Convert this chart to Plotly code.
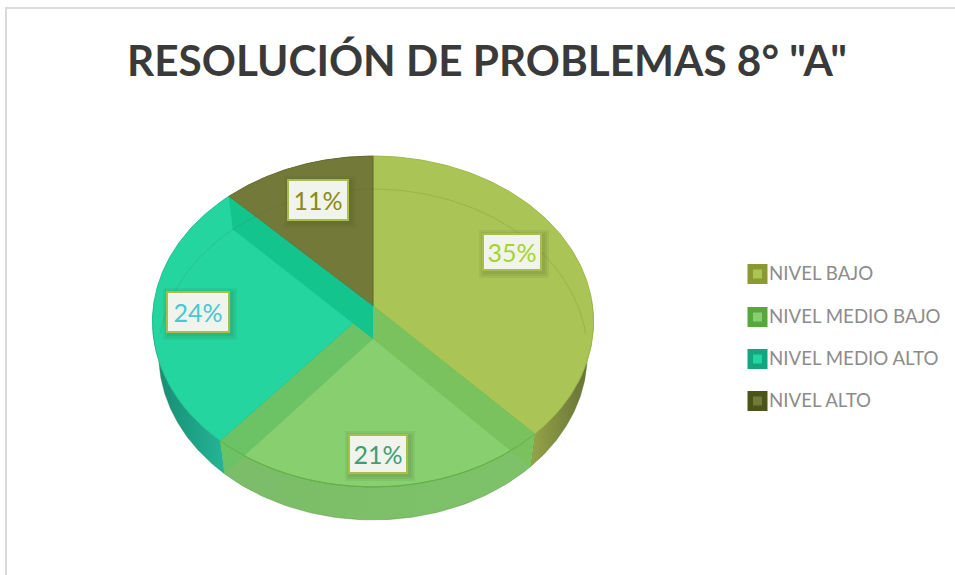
import numpy as np
import plotly.graph_objects as go

# ---- data ----
categories = ["NIVEL BAJO", "NIVEL MEDIO BAJO", "NIVEL MEDIO ALTO", "NIVEL ALTO"]
values = [35.0, 21.4, 24.4, 11.4]
title_text = 'RESOLUCIÓN DE PROBLEMAS 8° "A"'

# ---- styles ----
top_colors = ["#AAC456", "#88CF70", "#24D5A0", "#737A39"]
edge_colors = ["#9DB847", "#6DBB50", "#20C090", "#5F6A2A"]
wall_scales = [["#96A548", "#646C34"], ["#7BBD68", "#7DC268"], ["#168A72", "#24B596"], ["#737A39", "#737A39"]]
cut_colors = {0: "#7AC25E", 1: "#6CC366", 2: "#14C48D"}
swatch_outer = ["#8A9A2E", "#55A83A", "#12A580", "#4B5518"]
label_colors = ["#A6D32D", "#3F9E72", "#45C9D3", "#8C8A14"]
label_centres = [(512, 252), (378, 454), (198, 312), (318, 200)]
label_sizes = [(60, 38), (60, 40), (64, 42), (62, 42)]
legend_rows = [274, 317, 359, 401]

# pie geometry on a pixel-scaled axis (perspective disc)
CX, CY, RX, RY, K, DEPTH, FLOOR_X = 373, 306, 219.5, 164, -0.0937, 33, 0.972


def rim(theta_deg, shift=0.0, xscale=1.0):
    t = np.radians(theta_deg)
    u, v = np.sin(t), np.cos(t)
    d = 1 - K * v
    return CX + xscale * RX * u / d, CY - RY * v / d + shift


total = sum(values)
bounds = np.concatenate([[0], np.cumsum(values) / total * 360])
traces = []

# side walls of the front half
for i in range(len(values)):
    a, b = max(bounds[i], 88), min(bounds[i + 1], 272)
    if b <= a:
        continue
    th = np.linspace(a, b, 80)
    x1, y1 = rim(th)
    x2, y2 = rim(th[::-1], DEPTH, FLOOR_X)
    scale = wall_scales[i]
    traces.append(go.Scatter(
        x=np.r_[x1, x2], y=np.r_[y1, y2], mode="lines", fill="toself",
        line=dict(width=0.6, color="rgba(70,130,50,0.6)"),
        fillgradient=dict(type="horizontal", colorscale=[[0, scale[0]], [1, scale[1]]]),
        hoverinfo="skip", showlegend=False))

# top faces
for i, cat in enumerate(categories):
    th = np.linspace(bounds[i], bounds[i + 1], 120)
    x, y = rim(th)
    traces.append(go.Scatter(
        x=np.r_[CX, x, CX], y=np.r_[CY, y, CY], mode="lines", fill="toself",
        fillcolor=top_colors[i], line=dict(width=1, color=edge_colors[i]),
        name=cat, text=f"{round(values[i])}%", hoverinfo="name+text", showlegend=False))

# cut faces seen through the translucent top
for i, c in cut_colors.items():
    rx0, ry0 = rim(bounds[i + 1])
    rx1, ry1 = rim(bounds[i + 1], DEPTH, FLOOR_X)
    traces.append(go.Scatter(
        x=[CX, rx0, rx1, CX, CX], y=[CY, ry0, ry1, CY + DEPTH, CY],
        mode="lines", fill="toself", fillcolor=c, line=dict(width=0),
        hoverinfo="skip", showlegend=False))

# re-stroke the near rim and far-side inner rim
th = np.linspace(bounds[1], bounds[2], 200)
x, y = rim(th)
traces.append(go.Scatter(x=x, y=y, mode="lines", line=dict(width=1, color="#62B048"),
                         hoverinfo="skip", showlegend=False))
th = np.linspace(-88, 88, 200)
x, y = rim(th, DEPTH, FLOOR_X)
traces.append(go.Scatter(x=x, y=y, mode="lines", line=dict(width=1, color="rgba(80,100,30,0.18)"),
                         hoverinfo="skip", showlegend=False))

# legend swatches
for i, cat in enumerate(categories):
    traces.append(go.Scatter(x=[757.5], y=[legend_rows[i]], mode="markers",
                             marker=dict(symbol="square", size=20, color=swatch_outer[i]),
                             hoverinfo="skip", showlegend=False))
    traces.append(go.Scatter(x=[757.5], y=[legend_rows[i]], mode="markers",
                             marker=dict(symbol="square", size=9, color=top_colors[i]),
                             hoverinfo="skip", showlegend=False))

annotations = []
shapes = [
    dict(type="line", x0=5, x1=955, y0=8, y1=8, line=dict(color="#DADADA", width=2)),
    dict(type="line", x0=6, x1=6, y0=8, y1=575, line=dict(color="#DADADA", width=2)),
]
for i, v in enumerate(values):
    cx, cy = label_centres[i]
    w, h = label_sizes[i]
    for grow in (5, 3, 1):
        shapes.append(dict(type="rect", x0=cx - w / 2 + 2 - grow, x1=cx + w / 2 + 2 + grow,
                           y0=cy - h / 2 + 2 - grow, y1=cy + h / 2 + 2 + grow,
                           fillcolor="rgba(70,80,20,0.08)", line=dict(width=0), layer="above"))
    annotations.append(dict(x=cx, y=cy, xref="x", yref="y", text=f"{round(v)}%", showarrow=False,
                            width=w - 4, height=h - 4, align="center", valign="middle",
                            bgcolor="#F1F4EC", bordercolor="#A9BD4F", borderwidth=2, borderpad=0,
                            font=dict(family="Lato", size=25, color=label_colors[i])))
for i, cat in enumerate(categories):
    annotations.append(dict(x=767, y=legend_rows[i] - 1, xref="x", yref="y", text=cat, showarrow=False,
                            xanchor="left", yanchor="middle",
                            font=dict(family="Lato", size=18.7, color="#8C8C8C")))
annotations.append(dict(x=486.5, y=59, xref="x", yref="y", text=f"<b>{title_text}</b>", showarrow=False,
                        xanchor="center", yanchor="middle",
                        font=dict(family="Lato", size=42.3, color="#3A3A3A")))

fig = go.Figure(traces)
fig.update_layout(
    width=955, height=575, margin=dict(l=0, r=0, t=0, b=0),
    paper_bgcolor="white", plot_bgcolor="white", showlegend=False,
    xaxis=dict(range=[0, 955], visible=False, fixedrange=True),
    yaxis=dict(range=[575, 0], visible=False, fixedrange=True),
    annotations=annotations, shapes=shapes,
)
fig.write_html("out.html", config={"displayModeBar": False},
               post_script="document.body.style.margin='0';window.dispatchEvent(new Event('resize'));")
